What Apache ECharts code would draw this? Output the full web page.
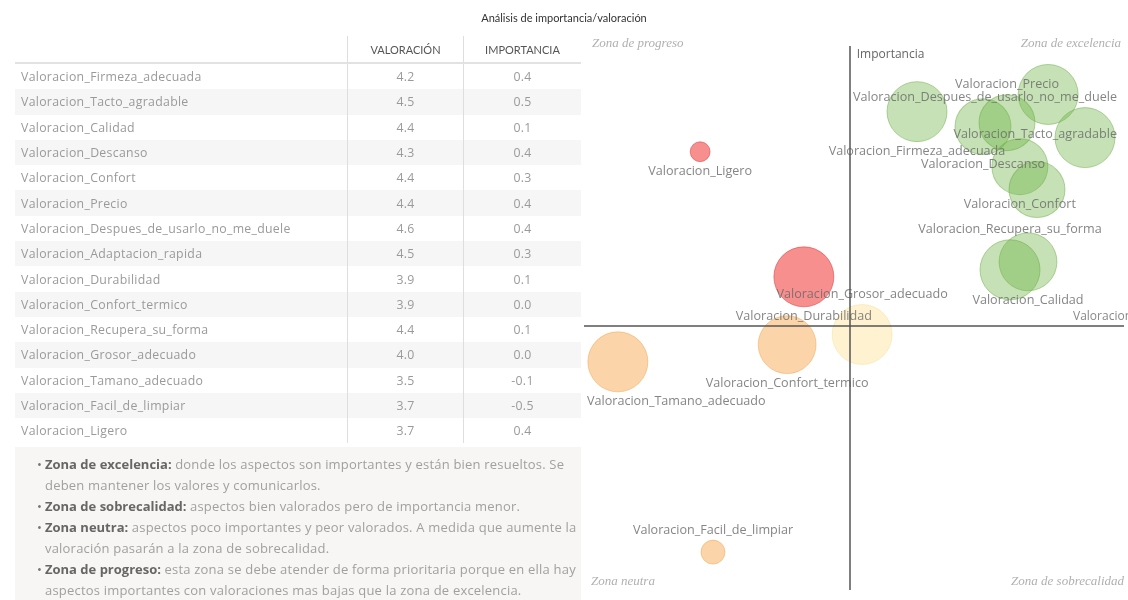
<!DOCTYPE html>
<html>
<head>
<meta charset="utf-8">
<script src="https://cdn.jsdelivr.net/npm/echarts@6/dist/echarts.min.js"></script>
<style>
html,body{margin:0;padding:0;width:1128px;height:600px;overflow:hidden;background:#fff;font-family:'Open Sans',Lato,sans-serif;}
#chart{position:absolute;left:0;top:0;width:1128px;height:600px;}
#tbl{position:absolute;left:15px;top:36px;width:566px;border-collapse:collapse;font-size:12.3px;letter-spacing:0.3px;color:#9a9a9a;table-layout:fixed;font-family:'Open Sans';}
#tbl th{height:26px;font-weight:normal;color:#555;font-size:11px;letter-spacing:0;font-family:Lato;border-bottom:2px solid #e2e2e2;text-align:center;padding:0;}
#tbl td{height:25.3px;padding:0;}
#tbl td.n{padding-left:6px;text-align:left;}
#tbl td.v,#tbl th.v{text-align:center;border-left:1px solid #dedede;}
#tbl tbody tr:nth-child(even) td{background:#f6f6f6;}
#notes{position:absolute;left:15px;top:447px;width:566px;height:160px;background:#f8f6f4;}
#notes ul{margin:0;padding:7px 0 0 30px;width:532px;list-style:none;font-size:13px;letter-spacing:0.2px;line-height:21px;color:#a0a0a0;font-family:'Open Sans';}
#notes li{position:relative;}
#notes li:before{content:'•';position:absolute;left:-8px;color:#777;}
#notes b{color:#666;font-weight:700;letter-spacing:0;}
</style>
</head>
<body>
<div id="chart"></div>
<table id="tbl"><thead><tr><th style="width:332px"></th><th class="v" style="width:115px">VALORACIÓN</th><th class="v">IMPORTANCIA</th></tr></thead><tbody id="tb"></tbody></table>
<div id="notes"><ul id="ul"></ul></div>
<script>
// ---- Data ----
const categories = [
  'Valoracion_Firmeza_adecuada','Valoracion_Tacto_agradable','Valoracion_Calidad','Valoracion_Descanso',
  'Valoracion_Confort','Valoracion_Precio','Valoracion_Despues_de_usarlo_no_me_duele','Valoracion_Adaptacion_rapida',
  'Valoracion_Durabilidad','Valoracion_Confort_termico','Valoracion_Recupera_su_forma','Valoracion_Grosor_adecuado',
  'Valoracion_Tamano_adecuado','Valoracion_Facil_de_limpiar','Valoracion_Ligero'
];
const tablaValoracion  = ['4.2','4.5','4.4','4.3','4.4','4.4','4.6','4.5','3.9','3.9','4.4','4.0','3.5','3.7','3.7'];
const tablaImportancia = ['0.4','0.5','0.1','0.4','0.3','0.4','0.4','0.3','0.1','0.0','0.1','0.0','-0.1','-0.5','0.4'];
// bubble positions
const valoracion  = [4.197, 4.503, 4.456, 4.351, 4.437, 4.407, 4.589, 4.477, 3.933, 3.894, 4.414, 4.069, 3.499, 3.721, 3.691];
const importancia = [0.486, 0.525, 0.145, 0.452, 0.361, 0.461, 0.427, 0.309, 0.111, -0.043, 0.127, -0.020, -0.082, -0.514, 0.395];
const peso        = [100, 100, 93, 87, 87, 87, 100, 87, 100, 93, 100, 100, 100, 16, 11];
const cruceX = 4.043, cruceY = 0;
const notas = [
  ['Zona de excelencia', ' donde los aspectos son importantes y están bien resueltos. Se deben mantener los valores y comunicarlos.'],
  ['Zona de sobrecalidad', ' aspectos bien valorados pero de importancia menor.'],
  ['Zona neutra', ' aspectos poco importantes y peor valorados. A medida que aumente la valoración pasarán a la zona de sobrecalidad.'],
  ['Zona de progreso', ' esta zona se debe atender de forma prioritaria porque en ella hay aspectos importantes con valoraciones mas bajas que la zona de excelencia.']
];

// ---- Table & notes ----
const tb = document.getElementById('tb');
categories.forEach((c,i)=>{
  const tr = document.createElement('tr');
  tr.innerHTML = '<td class="n">'+c+'</td><td class="v">'+tablaValoracion[i]+'</td><td class="v">'+tablaImportancia[i]+'</td>';
  tb.appendChild(tr);
});
const ul = document.getElementById('ul');
notas.forEach(n=>{ const li=document.createElement('li'); li.innerHTML='<b>'+n[0]+':</b>'+n[1]; ul.appendChild(li); });

// ---- Chart ----
const labelSide = ['bottom','bottom','bottom','bottom','bottom','top','top',null,'bottom','bottom','top','top','bottom','top','bottom'];
function zoneColor(x,y){
  if (x>=cruceX && y>=cruceY) return {c:'rgba(110,180,70,0.5)', b:'rgba(95,165,55,0.55)'};
  if (x<cruceX && y>=cruceY) return {c:'rgba(240,55,55,0.7)', b:'rgba(215,45,45,0.6)'};
  if (x<cruceX && y<cruceY) return {c:'rgba(247,160,60,0.55)', b:'rgba(235,150,50,0.5)'};
  return {c:'rgba(252,215,110,0.4)', b:'rgba(245,205,100,0.35)'};
}
const gridLeft = 584, gridRight = 4;
const chart = echarts.init(document.getElementById('chart'));
const data = categories.map((n,i)=>{
  const z = zoneColor(valoracion[i], importancia[i]);
  return {
    name: n,
    value: [valoracion[i], importancia[i], peso[i]],
    itemStyle: {color: z.c, borderColor: z.b, borderWidth: 1},
    label: labelSide[i] ? {show:true, position: labelSide[i]} : {show:false}
  };
});
chart.setOption({
  animation: false,
  title: {text:'Análisis de importancia/valoración', left:'center', top:8,
    textStyle:{fontSize:11, fontWeight:'normal', color:'#333', fontFamily:'Lato'}},
  grid: {left: gridLeft, right: gridRight, top: 46, bottom: 10},
  xAxis: {type:'value', min:3.42, max:4.68, axisLine:{show:false}, axisTick:{show:false}, axisLabel:{show:false}, splitLine:{show:false}},
  yAxis: {type:'value', min:-0.60, max:0.635, axisLine:{show:false}, axisTick:{show:false}, axisLabel:{show:false}, splitLine:{show:false}},
  graphic: [
    {type:'text', left:592, top:37, style:{text:'Zona de progreso', font:'italic 13px "Liberation Serif"', fill:'#b0b0b0'}},
    {type:'text', right:7, top:37, style:{text:'Zona de excelencia', font:'italic 13px "Liberation Serif"', fill:'#b0b0b0'}},
    {type:'text', left:591, top:575, style:{text:'Zona neutra', font:'italic 13px "Liberation Serif"', fill:'#b0b0b0'}},
    {type:'text', right:4, top:575, style:{text:'Zona de sobrecalidad', font:'italic 13px "Liberation Serif"', fill:'#b0b0b0'}}
  ],
  series: [{
    type:'scatter',
    data: data,
    symbolSize: v => 6*Math.sqrt(v[2]),
    label: {formatter:'{b}', color:'#666', fontSize:12.6, fontFamily:'Open Sans', distance:3},
    labelLayout: p => {
      const r = p.labelRect, w = chart.getWidth();
      let dx = 0;
      if (r.x < gridLeft + 3) dx = gridLeft + 3 - r.x;
      if (r.x + r.width > w - 11) dx = (w - 11) - (r.x + r.width);
      return {dx: dx};
    },
    markLine: {
      silent:true, symbol:['none','none'], animation:false,
      lineStyle:{color:'#555', width:1.5, type:'solid'},
      data: [
        {xAxis: cruceX, label:{show:true, formatter:'Importancia', position:'end', align:'left', verticalAlign:'top', padding:[8,0,0,7], color:'#666', fontSize:12, fontFamily:'Open Sans'}},
        {yAxis: cruceY, label:{show:true, formatter:'Valoracion', position:'insideEndTop', color:'#888', fontSize:12, fontFamily:'Open Sans', distance:[-8,3]}}
      ]
    }
  }]
});
</script>
</body>
</html>
